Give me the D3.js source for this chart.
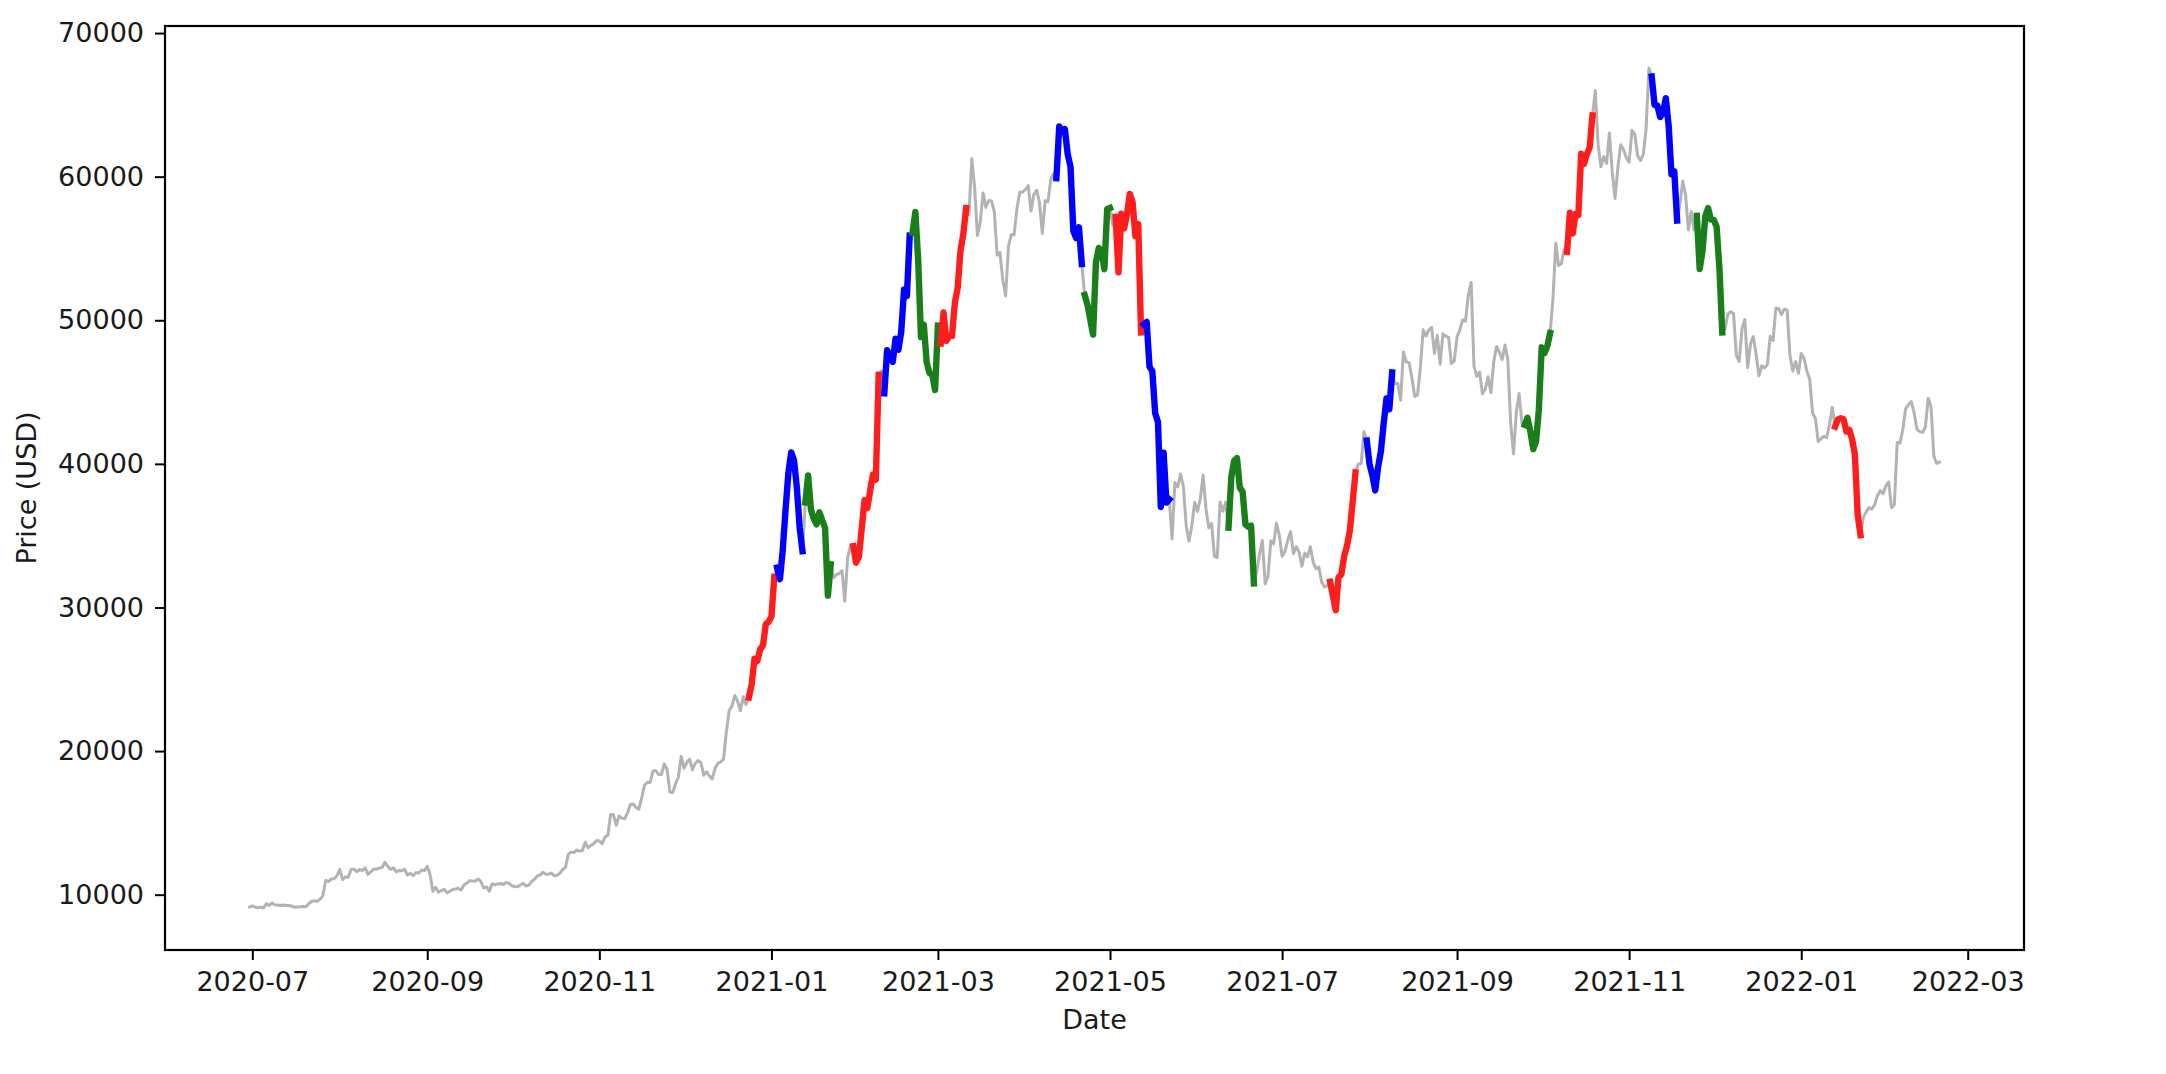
<!DOCTYPE html>
<html>
<head>
<meta charset="utf-8">
<script src="https://cdn.jsdelivr.net/npm/d3@7"></script>
<style>
  body { margin: 0; background: #fff; }
  text { font-family: "DejaVu Sans", sans-serif; }
</style>
</head>
<body>
<div id="chart"></div>
<script>
// DATA - daily close (USD), one array per year, each with its first day
const start2020 = "2020-06-30";
const close2020 = [
  9137,
  9228, 9123, 9087, 9132, 9073, 9375, 9253, 9428, 9277, 9278, 9241, 9277, 9243, 9243, 9192, 9132, 9151, 9159, 9185, 9164, 9374, 9525, 9581, 9536, 9677, 9905, 10990, 10912, 11100, 11111, 11323,
  11759, 11053, 11246, 11205, 11747, 11779, 11601, 11754, 11675, 11878, 11410, 11584, 11784, 11768, 11865, 11892, 12254, 11991, 11758, 11878, 11592, 11681, 11664, 11774, 11366, 11488, 11323, 11542, 11507, 11712, 11680,
  11970, 11414, 10245, 10512, 10169, 10280, 10369, 10131, 10243, 10364, 10400, 10442, 10324, 10680, 10796, 10974, 10948, 10944, 11095, 10920, 10463, 10538, 10247, 10760, 10693, 10751, 10776, 10709, 10844, 10784,
  10620, 10575, 10550, 10677, 10793, 10604, 10668, 10915, 11065, 11296, 11384, 11555, 11425, 11430, 11505, 11320, 11360, 11496, 11742, 11917, 12824, 12965, 12931, 13108, 13032, 13075, 13655, 13272, 13437, 13546, 13781,
  13737, 13550, 14025, 14133, 15579, 15565, 14833, 15479, 15332, 15290, 15701, 16276, 16317, 16068, 15955, 16716, 17645, 17804, 17817, 18621, 18642, 18370, 18364, 19107, 18732, 17150, 17108, 17718, 18177, 19625,
  18803, 19201, 19445, 18699, 19154, 19345, 19191, 18321, 18553, 18264, 18058, 18803, 19142, 19246, 19417, 21310, 22805, 23137, 23869, 23477, 22803, 23783, 23241, 23735, 24665, 26437, 26273, 27084, 27362, 28841, 29002
];

const start2021 = "2021-01-01";
const close2021 = [
  29374, 32127, 32782, 31971, 33992, 36824, 39371, 40797, 40254, 38356, 35566, 33922, 37316, 39187, 36825, 36178, 35792, 36630, 36069, 35547, 30825, 33005, 32067, 32289, 32366, 32569, 30432, 33466, 34316, 34269, 33114,
  33538, 35510, 37473, 36926, 38144, 39266, 38903, 46196, 46481, 44918, 47909, 47504, 47105, 48717, 47945, 49199, 52149, 51679, 55888, 56099, 57539, 54207, 48824, 49705, 47093, 46339, 46188, 45137,
  49631, 48378, 50538, 48561, 48927, 48912, 51206, 52246, 54824, 56008, 57805, 57332, 61243, 59302, 55907, 56804, 58870, 57858, 58346, 58313, 57523, 54529, 54738, 52775, 51704, 55137, 55974, 55947, 57750, 58918, 58918,
  59095, 59384, 57604, 58758, 59057, 58192, 56048, 58323, 58245, 59793, 60204, 59893, 63503, 63109, 63315, 61572, 60683, 56216, 55724, 56473, 53906, 51763, 51094, 50050, 49004, 54022, 55033, 54824, 53555, 57750,
  57828, 56631, 57200, 53333, 57424, 56396, 57356, 58803, 58232, 55859, 56704, 49150, 49716, 49880, 46760, 46456, 43538, 42909, 37002, 40782, 37304, 37536, 34770, 38705, 38402, 39294, 38436, 35697, 34616, 35678, 37332,
  36684, 37575, 39208, 36895, 35551, 35863, 33561, 33473, 37346, 36702, 37334, 35552, 39097, 40218, 40407, 38347, 38053, 35787, 35615, 35698, 31677, 32505, 33723, 34662, 31637, 32186, 34649, 34434, 35867, 35041,
  33572, 33897, 34668, 35287, 33746, 34235, 33855, 32877, 33798, 33520, 34240, 33155, 32702, 32822, 31780, 31421, 31533, 31796, 30817, 29807, 32110, 32313, 33581, 34292, 35350, 37337, 39406, 39995, 40008, 42236, 41626,
  39974, 39201, 38152, 39747, 40870, 42816, 44555, 43798, 46366, 45585, 45593, 44428, 47793, 47097, 47047, 46004, 44695, 44802, 46718, 49340, 48905, 49322, 49509, 47706, 48960, 46942, 49058, 48897, 48807, 46991, 47166,
  48848, 49327, 50025, 49944, 51753, 52633, 46811, 46091, 46391, 44883, 45201, 46063, 44963, 47092, 48176, 47783, 47267, 48278, 47260, 42844, 40693, 43574, 44895, 42840, 42716, 43208, 42235, 41034, 41564, 43790,
  48116, 47711, 48199, 49112, 51514, 55361, 53805, 53967, 54968, 54771, 57484, 56041, 57401, 57321, 61593, 60892, 61553, 62026, 64262, 65993, 62211, 60692, 61394, 60931, 63040, 60364, 58483, 60622, 62228, 61888, 61319,
  61005, 63227, 62970, 61453, 61125, 61528, 63327, 67567, 66972, 64996, 64950, 64155, 64470, 65466, 63557, 60161, 60368, 56942, 58120, 59697, 58730, 56289, 57570, 56281, 57275, 53570, 54815, 57248, 57807, 57006,
  56993, 56509, 53601, 49153, 49397, 50441, 50588, 50472, 47545, 47140, 49389, 50053, 46702, 48343, 48864, 47632, 46131, 46834, 46681, 46914, 48889, 48588, 50838, 50820, 50400, 50775, 50701, 47543, 46464, 47120, 46306
];

const start2022 = "2022-01-01";
const close2022 = [
  47686, 47345, 46458, 45897, 43569, 43160, 41558, 41734, 41912, 41822, 42736, 43949, 42591, 43099, 43177, 43113, 42250, 42375, 41744, 40681, 36457, 35030, 36276, 36654, 36954, 36852, 37138, 37784, 38138, 37917, 38483,
  38743, 36952, 37155, 41501, 41441, 42412, 43840, 44118, 44338, 43565, 42407, 42244, 42197, 42586, 44575, 43961, 40538, 40030, 40122
];

// highlighted 10-day windows
const segStart = ["2020-12-24", "2021-01-03", "2021-01-13", "2021-01-30", "2021-02-10", "2021-02-20", "2021-03-02",
  "2021-04-12", "2021-04-22", "2021-05-03", "2021-05-13", "2021-06-12", "2021-07-18", "2021-07-31",
  "2021-09-25", "2021-10-10", "2021-11-09", "2021-11-25", "2022-01-13"];
const segEnd = ["2021-01-02", "2021-01-12", "2021-01-22", "2021-02-08", "2021-02-19", "2021-03-01", "2021-03-11",
  "2021-04-21", "2021-05-01", "2021-05-12", "2021-05-22", "2021-06-21", "2021-07-27", "2021-08-09",
  "2021-10-04", "2021-10-19", "2021-11-18", "2021-12-04", "2022-01-22"];
const segGroup = [0, 1, 2, 0, 1, 2, 0, 1, 2, 0, 1, 2, 0, 1, 2, 0, 1, 2, 0];

const yTicks = [10000, 20000, 30000, 40000, 50000, 60000, 70000];

// CONSTANTS
const width = 2166;
const height = 1074;
const margin = {top: 26, right: 142, bottom: 124, left: 165};
const groupColors = ["#ff1e1e", "#0000ff", "#1a7f1a"];
const fontSize = 27;

const parse = d3.timeParse("%Y-%m-%d");

function toRows(start, values) {
  const d0 = parse(start);
  return values.map((v, i) => ({date: d3.timeDay.offset(d0, i), close: v}));
}
const data = toRows(start2020, close2020)
  .concat(toRows(start2021, close2021), toRows(start2022, close2022));

// SCALES (5% padding like matplotlib)
const [dMin, dMax] = d3.extent(data, d => d.date);
const dPad = (dMax - dMin) * 0.05;
const xScale = d3.scaleTime()
  .domain([new Date(+dMin - dPad), new Date(+dMax + dPad)])
  .range([margin.left, width - margin.right]);

const [vMin, vMax] = d3.extent(data, d => d.close);
const vPad = (vMax - vMin) * 0.05;
const yScale = d3.scaleLinear()
  .domain([vMin - vPad, vMax + vPad])
  .range([height - margin.bottom, margin.top]);

// SVG
const svg = d3.select("#chart")
  .append("svg")
  .attr("width", width)
  .attr("height", height)
  .style("background-color", "#fff");

const line = d3.line()
  .x(d => xScale(d.date))
  .y(d => yScale(d.close));

// base price line
svg.append("path")
  .datum(data)
  .attr("fill", "none")
  .attr("stroke", "#b3b3b3")
  .attr("stroke-width", 3)
  .attr("stroke-linejoin", "round")
  .attr("stroke-linecap", "square")
  .attr("d", line);

// highlighted windows
segStart.forEach((s, i) => {
  const a = parse(s), b = parse(segEnd[i]);
  const part = data.filter(d => d.date >= a && d.date <= b);
  svg.append("path")
    .datum(part)
    .attr("fill", "none")
    .attr("stroke", groupColors[segGroup[i]])
    .attr("stroke-width", 6.4)
    .attr("stroke-linejoin", "round")
    .attr("stroke-linecap", "square")
    .attr("d", line);
});

// AXES
const xAxis = d3.axisBottom(xScale)
  .ticks(d3.timeMonth.every(2))
  .tickFormat(d3.timeFormat("%Y-%m"))
  .tickSize(10)
  .tickPadding(12);

const yAxis = d3.axisLeft(yScale)
  .tickValues(yTicks)
  .tickFormat(d3.format("d"))
  .tickSize(10)
  .tickPadding(11);

const xAxisGroup = svg.append("g")
  .attr("transform", `translate(0, ${height - margin.bottom})`)
  .call(xAxis);

const yAxisGroup = svg.append("g")
  .attr("transform", `translate(${margin.left}, 0)`)
  .call(yAxis);

[xAxisGroup, yAxisGroup].forEach(g => {
  g.select(".domain").remove();
  g.selectAll(".tick line").attr("stroke", "#000").attr("stroke-width", 2);
  g.selectAll(".tick text")
    .attr("fill", "#1a1a1a")
    .style("font-size", fontSize + "px")
    .style("font-family", "DejaVu Sans, sans-serif");
});

// frame
svg.append("rect")
  .attr("x", margin.left)
  .attr("y", margin.top)
  .attr("width", width - margin.left - margin.right)
  .attr("height", height - margin.top - margin.bottom)
  .attr("fill", "none")
  .attr("stroke", "#000")
  .attr("stroke-width", 2.2);

// axis titles
svg.append("text")
  .attr("x", (margin.left + width - margin.right) / 2)
  .attr("y", 1029)
  .attr("text-anchor", "middle")
  .attr("fill", "#1a1a1a")
  .style("font-size", fontSize + "px")
  .text("Date");

svg.append("text")
  .attr("transform", `translate(27, ${(margin.top + height - margin.bottom) / 2}) rotate(-90)`)
  .attr("dy", "0.35em")
  .attr("text-anchor", "middle")
  .attr("fill", "#1a1a1a")
  .style("font-size", fontSize + "px")
  .text("Price (USD)");
</script>
</body>
</html>
